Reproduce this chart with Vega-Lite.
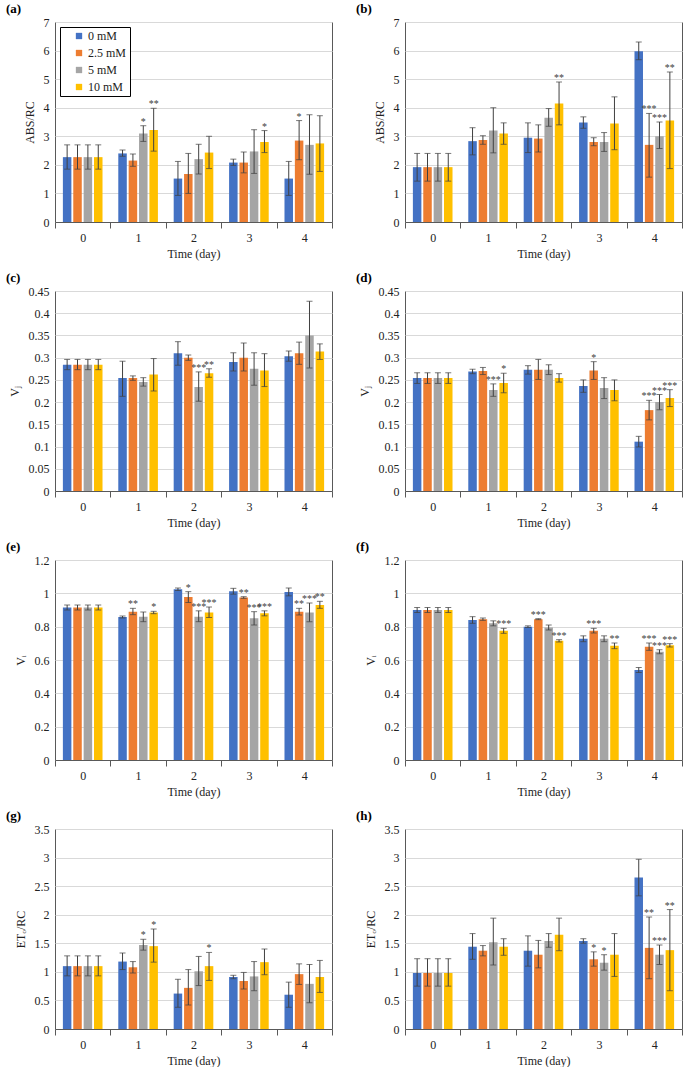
{
"$schema":"https://vega.github.io/schema/vega-lite/v6.json",
"padding":{"left":5,"top":2,"right":0,"bottom":0},
"config":{
 "view":{"stroke":"#595959","strokeWidth":1},
 "font":"Liberation Serif",
 "title":{"font":"Liberation Serif","fontSize":13,"fontWeight":"bold","anchor":"start","frame":"group","offset":0,"dy":4,"dx":-49,"color":"#000"},
 "axis":{"labelFont":"Liberation Serif","titleFont":"Liberation Serif","labelFontSize":12,"titleFontSize":12,"titleFontWeight":"normal","labelColor":"#222","titleColor":"#222"},
 "axisY":{"grid":true,"gridColor":"#d9d9d9","ticks":false,"domain":false,"labelPadding":6,"titlePadding":7,"labelOverlap":false},
 "axisX":{"tickBand":"extent","tickSize":6,"tickColor":"#595959","domainColor":"#595959","labelAngle":0,"labelPadding":4,"titlePadding":5,"grid":false},
 "tick":{"color":"#404040","size":6,"thickness":1},
 "rule":{"color":"#404040","strokeWidth":1},
 "text":{"color":"#404040","font":"Liberation Serif","fontSize":10,"baseline":"alphabetic","dy":-1}
},
"data":{"values":[
{"p":"a","d":"0","c":"0 mM","v":2.27,"lo":1.85,"hi":2.7},
{"p":"a","d":"0","c":"2.5 mM","v":2.27,"lo":1.85,"hi":2.7},
{"p":"a","d":"0","c":"5 mM","v":2.27,"lo":1.85,"hi":2.7},
{"p":"a","d":"0","c":"10 mM","v":2.27,"lo":1.85,"hi":2.7},
{"p":"a","d":"1","c":"0 mM","v":2.4,"lo":2.3,"hi":2.52},
{"p":"a","d":"1","c":"2.5 mM","v":2.15,"lo":1.95,"hi":2.38},
{"p":"a","d":"1","c":"5 mM","v":3.1,"lo":2.82,"hi":3.37,"s":"*"},
{"p":"a","d":"1","c":"10 mM","v":3.22,"lo":2.48,"hi":3.98,"s":"**"},
{"p":"a","d":"2","c":"0 mM","v":1.52,"lo":0.93,"hi":2.12},
{"p":"a","d":"2","c":"2.5 mM","v":1.68,"lo":1.0,"hi":2.4},
{"p":"a","d":"2","c":"5 mM","v":2.2,"lo":1.68,"hi":2.72},
{"p":"a","d":"2","c":"10 mM","v":2.43,"lo":1.87,"hi":3.0},
{"p":"a","d":"3","c":"0 mM","v":2.08,"lo":1.98,"hi":2.2},
{"p":"a","d":"3","c":"2.5 mM","v":2.08,"lo":1.72,"hi":2.45},
{"p":"a","d":"3","c":"5 mM","v":2.47,"lo":1.7,"hi":3.23},
{"p":"a","d":"3","c":"10 mM","v":2.8,"lo":2.43,"hi":3.2,"s":"*"},
{"p":"a","d":"4","c":"0 mM","v":1.52,"lo":0.93,"hi":2.12},
{"p":"a","d":"4","c":"2.5 mM","v":2.85,"lo":2.18,"hi":3.55,"s":"*"},
{"p":"a","d":"4","c":"5 mM","v":2.7,"lo":1.67,"hi":3.75},
{"p":"a","d":"4","c":"10 mM","v":2.75,"lo":1.77,"hi":3.72},
{"p":"b","d":"0","c":"0 mM","v":1.92,"lo":1.43,"hi":2.4},
{"p":"b","d":"0","c":"2.5 mM","v":1.92,"lo":1.43,"hi":2.4},
{"p":"b","d":"0","c":"5 mM","v":1.92,"lo":1.43,"hi":2.4},
{"p":"b","d":"0","c":"10 mM","v":1.92,"lo":1.43,"hi":2.4},
{"p":"b","d":"1","c":"0 mM","v":2.83,"lo":2.35,"hi":3.3},
{"p":"b","d":"1","c":"2.5 mM","v":2.87,"lo":2.72,"hi":3.02},
{"p":"b","d":"1","c":"5 mM","v":3.2,"lo":2.42,"hi":4.0},
{"p":"b","d":"1","c":"10 mM","v":3.1,"lo":2.72,"hi":3.47},
{"p":"b","d":"2","c":"0 mM","v":2.95,"lo":2.43,"hi":3.47},
{"p":"b","d":"2","c":"2.5 mM","v":2.92,"lo":2.45,"hi":3.4},
{"p":"b","d":"2","c":"5 mM","v":3.65,"lo":3.35,"hi":3.97},
{"p":"b","d":"2","c":"10 mM","v":4.15,"lo":3.4,"hi":4.9,"s":"**"},
{"p":"b","d":"3","c":"0 mM","v":3.48,"lo":3.28,"hi":3.68},
{"p":"b","d":"3","c":"2.5 mM","v":2.8,"lo":2.67,"hi":2.95},
{"p":"b","d":"3","c":"5 mM","v":2.8,"lo":2.47,"hi":3.13},
{"p":"b","d":"3","c":"10 mM","v":3.45,"lo":2.53,"hi":4.38},
{"p":"b","d":"4","c":"0 mM","v":5.98,"lo":5.68,"hi":6.3},
{"p":"b","d":"4","c":"2.5 mM","v":2.7,"lo":1.57,"hi":3.8,"s":"***"},
{"p":"b","d":"4","c":"5 mM","v":3.0,"lo":2.57,"hi":3.5,"s":"***"},
{"p":"b","d":"4","c":"10 mM","v":3.55,"lo":1.87,"hi":5.25,"s":"**"},
{"p":"c","d":"0","c":"0 mM","v":0.284,"lo":0.273,"hi":0.296},
{"p":"c","d":"0","c":"2.5 mM","v":0.284,"lo":0.273,"hi":0.296},
{"p":"c","d":"0","c":"5 mM","v":0.284,"lo":0.273,"hi":0.296},
{"p":"c","d":"0","c":"10 mM","v":0.284,"lo":0.273,"hi":0.296},
{"p":"c","d":"1","c":"0 mM","v":0.254,"lo":0.213,"hi":0.292},
{"p":"c","d":"1","c":"2.5 mM","v":0.254,"lo":0.249,"hi":0.259},
{"p":"c","d":"1","c":"5 mM","v":0.245,"lo":0.236,"hi":0.255},
{"p":"c","d":"1","c":"10 mM","v":0.262,"lo":0.225,"hi":0.298},
{"p":"c","d":"2","c":"0 mM","v":0.31,"lo":0.283,"hi":0.336},
{"p":"c","d":"2","c":"2.5 mM","v":0.3,"lo":0.294,"hi":0.306},
{"p":"c","d":"2","c":"5 mM","v":0.234,"lo":0.202,"hi":0.268,"s":"***"},
{"p":"c","d":"2","c":"10 mM","v":0.265,"lo":0.256,"hi":0.275,"s":"**"},
{"p":"c","d":"3","c":"0 mM","v":0.29,"lo":0.27,"hi":0.311},
{"p":"c","d":"3","c":"2.5 mM","v":0.3,"lo":0.27,"hi":0.333},
{"p":"c","d":"3","c":"5 mM","v":0.275,"lo":0.238,"hi":0.311},
{"p":"c","d":"3","c":"10 mM","v":0.271,"lo":0.235,"hi":0.309},
{"p":"c","d":"4","c":"0 mM","v":0.303,"lo":0.292,"hi":0.315},
{"p":"c","d":"4","c":"2.5 mM","v":0.31,"lo":0.285,"hi":0.335},
{"p":"c","d":"4","c":"5 mM","v":0.35,"lo":0.277,"hi":0.427},
{"p":"c","d":"4","c":"10 mM","v":0.314,"lo":0.296,"hi":0.331},
{"p":"d","d":"0","c":"0 mM","v":0.254,"lo":0.242,"hi":0.266},
{"p":"d","d":"0","c":"2.5 mM","v":0.254,"lo":0.242,"hi":0.266},
{"p":"d","d":"0","c":"5 mM","v":0.254,"lo":0.242,"hi":0.266},
{"p":"d","d":"0","c":"10 mM","v":0.254,"lo":0.242,"hi":0.266},
{"p":"d","d":"1","c":"0 mM","v":0.269,"lo":0.264,"hi":0.274},
{"p":"d","d":"1","c":"2.5 mM","v":0.27,"lo":0.262,"hi":0.278},
{"p":"d","d":"1","c":"5 mM","v":0.227,"lo":0.213,"hi":0.241,"s":"***"},
{"p":"d","d":"1","c":"10 mM","v":0.243,"lo":0.221,"hi":0.265,"s":"*"},
{"p":"d","d":"2","c":"0 mM","v":0.273,"lo":0.263,"hi":0.282},
{"p":"d","d":"2","c":"2.5 mM","v":0.273,"lo":0.251,"hi":0.296},
{"p":"d","d":"2","c":"5 mM","v":0.273,"lo":0.262,"hi":0.284},
{"p":"d","d":"2","c":"10 mM","v":0.254,"lo":0.245,"hi":0.264},
{"p":"d","d":"3","c":"0 mM","v":0.236,"lo":0.222,"hi":0.25},
{"p":"d","d":"3","c":"2.5 mM","v":0.271,"lo":0.251,"hi":0.291,"s":"*"},
{"p":"d","d":"3","c":"5 mM","v":0.232,"lo":0.208,"hi":0.255},
{"p":"d","d":"3","c":"10 mM","v":0.227,"lo":0.203,"hi":0.25},
{"p":"d","d":"4","c":"0 mM","v":0.111,"lo":0.099,"hi":0.123},
{"p":"d","d":"4","c":"2.5 mM","v":0.182,"lo":0.16,"hi":0.204,"s":"***"},
{"p":"d","d":"4","c":"5 mM","v":0.2,"lo":0.183,"hi":0.217,"s":"***"},
{"p":"d","d":"4","c":"10 mM","v":0.209,"lo":0.19,"hi":0.228,"s":"***"},
{"p":"e","d":"0","c":"0 mM","v":0.915,"lo":0.9,"hi":0.93},
{"p":"e","d":"0","c":"2.5 mM","v":0.915,"lo":0.9,"hi":0.93},
{"p":"e","d":"0","c":"5 mM","v":0.915,"lo":0.9,"hi":0.93},
{"p":"e","d":"0","c":"10 mM","v":0.915,"lo":0.9,"hi":0.93},
{"p":"e","d":"1","c":"0 mM","v":0.858,"lo":0.852,"hi":0.864},
{"p":"e","d":"1","c":"2.5 mM","v":0.89,"lo":0.872,"hi":0.91,"s":"**"},
{"p":"e","d":"1","c":"5 mM","v":0.86,"lo":0.83,"hi":0.888},
{"p":"e","d":"1","c":"10 mM","v":0.885,"lo":0.878,"hi":0.892,"s":"*"},
{"p":"e","d":"2","c":"0 mM","v":1.025,"lo":1.017,"hi":1.032},
{"p":"e","d":"2","c":"2.5 mM","v":0.978,"lo":0.945,"hi":1.01,"s":"*"},
{"p":"e","d":"2","c":"5 mM","v":0.86,"lo":0.83,"hi":0.895,"s":"***"},
{"p":"e","d":"2","c":"10 mM","v":0.885,"lo":0.855,"hi":0.918,"s":"***"},
{"p":"e","d":"3","c":"0 mM","v":1.013,"lo":0.995,"hi":1.03},
{"p":"e","d":"3","c":"2.5 mM","v":0.975,"lo":0.97,"hi":0.98,"s":"**"},
{"p":"e","d":"3","c":"5 mM","v":0.85,"lo":0.81,"hi":0.89,"s":"***"},
{"p":"e","d":"3","c":"10 mM","v":0.88,"lo":0.865,"hi":0.895,"s":"***"},
{"p":"e","d":"4","c":"0 mM","v":1.008,"lo":0.985,"hi":1.032},
{"p":"e","d":"4","c":"2.5 mM","v":0.89,"lo":0.87,"hi":0.91,"s":"**"},
{"p":"e","d":"4","c":"5 mM","v":0.885,"lo":0.83,"hi":0.942,"s":"***"},
{"p":"e","d":"4","c":"10 mM","v":0.93,"lo":0.91,"hi":0.952,"s":"**"},
{"p":"f","d":"0","c":"0 mM","v":0.9,"lo":0.885,"hi":0.915},
{"p":"f","d":"0","c":"2.5 mM","v":0.9,"lo":0.885,"hi":0.915},
{"p":"f","d":"0","c":"5 mM","v":0.9,"lo":0.885,"hi":0.915},
{"p":"f","d":"0","c":"10 mM","v":0.9,"lo":0.885,"hi":0.915},
{"p":"f","d":"1","c":"0 mM","v":0.84,"lo":0.82,"hi":0.86},
{"p":"f","d":"1","c":"2.5 mM","v":0.845,"lo":0.838,"hi":0.852},
{"p":"f","d":"1","c":"5 mM","v":0.82,"lo":0.805,"hi":0.835},
{"p":"f","d":"1","c":"10 mM","v":0.775,"lo":0.76,"hi":0.79,"s":"***"},
{"p":"f","d":"2","c":"0 mM","v":0.8,"lo":0.795,"hi":0.805},
{"p":"f","d":"2","c":"2.5 mM","v":0.845,"lo":0.842,"hi":0.848,"s":"***"},
{"p":"f","d":"2","c":"5 mM","v":0.795,"lo":0.78,"hi":0.81},
{"p":"f","d":"2","c":"10 mM","v":0.715,"lo":0.708,"hi":0.722,"s":"***"},
{"p":"f","d":"3","c":"0 mM","v":0.728,"lo":0.71,"hi":0.745},
{"p":"f","d":"3","c":"2.5 mM","v":0.775,"lo":0.762,"hi":0.79,"s":"***"},
{"p":"f","d":"3","c":"5 mM","v":0.728,"lo":0.71,"hi":0.745},
{"p":"f","d":"3","c":"10 mM","v":0.685,"lo":0.668,"hi":0.702,"s":"**"},
{"p":"f","d":"4","c":"0 mM","v":0.54,"lo":0.525,"hi":0.555},
{"p":"f","d":"4","c":"2.5 mM","v":0.68,"lo":0.658,"hi":0.702,"s":"***"},
{"p":"f","d":"4","c":"5 mM","v":0.65,"lo":0.638,"hi":0.662,"s":"***"},
{"p":"f","d":"4","c":"10 mM","v":0.688,"lo":0.678,"hi":0.698,"s":"***"},
{"p":"g","d":"0","c":"0 mM","v":1.1,"lo":0.93,"hi":1.28},
{"p":"g","d":"0","c":"2.5 mM","v":1.1,"lo":0.93,"hi":1.28},
{"p":"g","d":"0","c":"5 mM","v":1.1,"lo":0.93,"hi":1.28},
{"p":"g","d":"0","c":"10 mM","v":1.1,"lo":0.93,"hi":1.28},
{"p":"g","d":"1","c":"0 mM","v":1.18,"lo":1.04,"hi":1.33},
{"p":"g","d":"1","c":"2.5 mM","v":1.08,"lo":0.98,"hi":1.18},
{"p":"g","d":"1","c":"5 mM","v":1.47,"lo":1.38,"hi":1.57,"s":"*"},
{"p":"g","d":"1","c":"10 mM","v":1.45,"lo":1.17,"hi":1.75,"s":"*"},
{"p":"g","d":"2","c":"0 mM","v":0.62,"lo":0.38,"hi":0.87},
{"p":"g","d":"2","c":"2.5 mM","v":0.72,"lo":0.42,"hi":1.04},
{"p":"g","d":"2","c":"5 mM","v":1.01,"lo":0.76,"hi":1.27},
{"p":"g","d":"2","c":"10 mM","v":1.1,"lo":0.85,"hi":1.34,"s":"*"},
{"p":"g","d":"3","c":"0 mM","v":0.91,"lo":0.88,"hi":0.94},
{"p":"g","d":"3","c":"2.5 mM","v":0.84,"lo":0.7,"hi":0.99},
{"p":"g","d":"3","c":"5 mM","v":0.92,"lo":0.67,"hi":1.18},
{"p":"g","d":"3","c":"10 mM","v":1.17,"lo":0.95,"hi":1.4},
{"p":"g","d":"4","c":"0 mM","v":0.6,"lo":0.38,"hi":0.82},
{"p":"g","d":"4","c":"2.5 mM","v":0.96,"lo":0.78,"hi":1.14},
{"p":"g","d":"4","c":"5 mM","v":0.79,"lo":0.46,"hi":1.13},
{"p":"g","d":"4","c":"10 mM","v":0.91,"lo":0.64,"hi":1.2},
{"p":"h","d":"0","c":"0 mM","v":0.98,"lo":0.75,"hi":1.23},
{"p":"h","d":"0","c":"2.5 mM","v":0.98,"lo":0.75,"hi":1.23},
{"p":"h","d":"0","c":"5 mM","v":0.98,"lo":0.75,"hi":1.23},
{"p":"h","d":"0","c":"10 mM","v":0.98,"lo":0.75,"hi":1.23},
{"p":"h","d":"1","c":"0 mM","v":1.44,"lo":1.22,"hi":1.67},
{"p":"h","d":"1","c":"2.5 mM","v":1.37,"lo":1.28,"hi":1.46},
{"p":"h","d":"1","c":"5 mM","v":1.52,"lo":1.12,"hi":1.94},
{"p":"h","d":"1","c":"10 mM","v":1.44,"lo":1.29,"hi":1.58},
{"p":"h","d":"2","c":"0 mM","v":1.37,"lo":1.1,"hi":1.63},
{"p":"h","d":"2","c":"2.5 mM","v":1.3,"lo":1.07,"hi":1.55},
{"p":"h","d":"2","c":"5 mM","v":1.54,"lo":1.43,"hi":1.67},
{"p":"h","d":"2","c":"10 mM","v":1.65,"lo":1.37,"hi":1.94},
{"p":"h","d":"3","c":"0 mM","v":1.54,"lo":1.5,"hi":1.58},
{"p":"h","d":"3","c":"2.5 mM","v":1.22,"lo":1.1,"hi":1.35,"s":"*"},
{"p":"h","d":"3","c":"5 mM","v":1.16,"lo":1.03,"hi":1.3,"s":"*"},
{"p":"h","d":"3","c":"10 mM","v":1.3,"lo":0.92,"hi":1.67},
{"p":"h","d":"4","c":"0 mM","v":2.65,"lo":2.33,"hi":2.97},
{"p":"h","d":"4","c":"2.5 mM","v":1.42,"lo":0.88,"hi":1.96,"s":"**"},
{"p":"h","d":"4","c":"5 mM","v":1.3,"lo":1.13,"hi":1.47,"s":"***"},
{"p":"h","d":"4","c":"10 mM","v":1.38,"lo":0.67,"hi":2.09,"s":"**"}
]},
"spacing":11,
"resolve":{"scale":{"color":"independent"},"legend":{"color":"independent"}},
"vconcat":[
{"spacing":22,"resolve":{"scale":{"color":"independent"},"legend":{"color":"independent"}},"hconcat":[
{"title":"(a)","width":277,"height":200,"transform":[{"filter":"datum.p==='a'"}],
 "encoding":{"x":{"field":"d","type":"nominal","title":"Time (day)","scale":{"paddingInner":0,"paddingOuter":0}},
  "xOffset":{"field":"c","type":"nominal","scale":{"domain":["0 mM","2.5 mM","5 mM","10 mM"],"paddingInner":0.18,"paddingOuter":0.76}}},
 "layer":[
  {"mark":"bar","encoding":{"y":{"field":"v","type":"quantitative","title":"ABS/RC","scale":{"domain":[0,7],"nice":false},"axis":{"values":[0,1,2,3,4,5,6,7],"format":"~g"}},
   "color":{"field":"c","type":"nominal","scale":{"domain":["0 mM","2.5 mM","5 mM","10 mM"],"range":["#4472C4","#ED7D31","#A5A5A5","#FFC000"]},
    "legend":{"orient":"top-left","offset":5,"title":null,"symbolType":"square","symbolSize":40,"symbolStrokeWidth":0,"labelFont":"Liberation Serif","labelFontSize":12,"labelColor":"#222","strokeColor":"#000","fillColor":"#fff","padding":3,"rowPadding":5,"symbolOffset":10,"labelOffset":3}}}},
  {"mark":"rule","encoding":{"y":{"field":"lo","type":"quantitative","title":"ABS/RC","scale":{"domain":[0,7],"nice":false},"axis":{"values":[0,1,2,3,4,5,6,7],"format":"~g"}},"y2":{"field":"hi"}}},
  {"mark":"tick","encoding":{"y":{"field":"lo","type":"quantitative","title":"ABS/RC","scale":{"domain":[0,7],"nice":false},"axis":{"values":[0,1,2,3,4,5,6,7],"format":"~g"}}}},
  {"mark":"tick","encoding":{"y":{"field":"hi","type":"quantitative","title":"ABS/RC","scale":{"domain":[0,7],"nice":false},"axis":{"values":[0,1,2,3,4,5,6,7],"format":"~g"}}}},
  {"transform":[{"filter":"datum.s"}],"mark":"text","encoding":{"y":{"field":"hi","type":"quantitative","title":"ABS/RC","scale":{"domain":[0,7],"nice":false},"axis":{"values":[0,1,2,3,4,5,6,7],"format":"~g"}},"text":{"field":"s"}}}
 ]},
{"title":"(b)","width":277,"height":200,"transform":[{"filter":"datum.p==='b'"}],
 "encoding":{"x":{"field":"d","type":"nominal","title":"Time (day)","scale":{"paddingInner":0,"paddingOuter":0}},
  "xOffset":{"field":"c","type":"nominal","scale":{"domain":["0 mM","2.5 mM","5 mM","10 mM"],"paddingInner":0.18,"paddingOuter":0.76}}},
 "layer":[
  {"mark":"bar","encoding":{"y":{"field":"v","type":"quantitative","title":"ABS/RC","scale":{"domain":[0,7],"nice":false},"axis":{"values":[0,1,2,3,4,5,6,7],"format":"~g"}},
   "color":{"field":"c","type":"nominal","scale":{"domain":["0 mM","2.5 mM","5 mM","10 mM"],"range":["#4472C4","#ED7D31","#A5A5A5","#FFC000"]},"legend":null}}},
  {"mark":"rule","encoding":{"y":{"field":"lo","type":"quantitative","title":"ABS/RC","scale":{"domain":[0,7],"nice":false},"axis":{"values":[0,1,2,3,4,5,6,7],"format":"~g"}},"y2":{"field":"hi"}}},
  {"mark":"tick","encoding":{"y":{"field":"lo","type":"quantitative","title":"ABS/RC","scale":{"domain":[0,7],"nice":false},"axis":{"values":[0,1,2,3,4,5,6,7],"format":"~g"}}}},
  {"mark":"tick","encoding":{"y":{"field":"hi","type":"quantitative","title":"ABS/RC","scale":{"domain":[0,7],"nice":false},"axis":{"values":[0,1,2,3,4,5,6,7],"format":"~g"}}}},
  {"transform":[{"filter":"datum.s"}],"mark":"text","encoding":{"y":{"field":"hi","type":"quantitative","title":"ABS/RC","scale":{"domain":[0,7],"nice":false},"axis":{"values":[0,1,2,3,4,5,6,7],"format":"~g"}},"text":{"field":"s"}}}
 ]}
]},
{"spacing":22,"resolve":{"scale":{"color":"independent"},"legend":{"color":"independent"}},"hconcat":[
{"title":"(c)","width":277,"height":200,"transform":[{"filter":"datum.p==='c'"}],
 "encoding":{"x":{"field":"d","type":"nominal","title":"Time (day)","scale":{"paddingInner":0,"paddingOuter":0}},
  "xOffset":{"field":"c","type":"nominal","scale":{"domain":["0 mM","2.5 mM","5 mM","10 mM"],"paddingInner":0.18,"paddingOuter":0.76}}},
 "layer":[
  {"mark":"bar","encoding":{"y":{"field":"v","type":"quantitative","title":"Vⱼ","scale":{"domain":[0,0.45],"nice":false},"axis":{"values":[0,0.05,0.1,0.15,0.2,0.25,0.3,0.35,0.4,0.45],"format":"~g"}},
   "color":{"field":"c","type":"nominal","scale":{"domain":["0 mM","2.5 mM","5 mM","10 mM"],"range":["#4472C4","#ED7D31","#A5A5A5","#FFC000"]},"legend":null}}},
  {"mark":"rule","encoding":{"y":{"field":"lo","type":"quantitative","title":"Vⱼ","scale":{"domain":[0,0.45],"nice":false},"axis":{"values":[0,0.05,0.1,0.15,0.2,0.25,0.3,0.35,0.4,0.45],"format":"~g"}},"y2":{"field":"hi"}}},
  {"mark":"tick","encoding":{"y":{"field":"lo","type":"quantitative","title":"Vⱼ","scale":{"domain":[0,0.45],"nice":false},"axis":{"values":[0,0.05,0.1,0.15,0.2,0.25,0.3,0.35,0.4,0.45],"format":"~g"}}}},
  {"mark":"tick","encoding":{"y":{"field":"hi","type":"quantitative","title":"Vⱼ","scale":{"domain":[0,0.45],"nice":false},"axis":{"values":[0,0.05,0.1,0.15,0.2,0.25,0.3,0.35,0.4,0.45],"format":"~g"}}}},
  {"transform":[{"filter":"datum.s"}],"mark":"text","encoding":{"y":{"field":"hi","type":"quantitative","title":"Vⱼ","scale":{"domain":[0,0.45],"nice":false},"axis":{"values":[0,0.05,0.1,0.15,0.2,0.25,0.3,0.35,0.4,0.45],"format":"~g"}},"text":{"field":"s"}}}
 ]},
{"title":"(d)","width":277,"height":200,"transform":[{"filter":"datum.p==='d'"}],
 "encoding":{"x":{"field":"d","type":"nominal","title":"Time (day)","scale":{"paddingInner":0,"paddingOuter":0}},
  "xOffset":{"field":"c","type":"nominal","scale":{"domain":["0 mM","2.5 mM","5 mM","10 mM"],"paddingInner":0.18,"paddingOuter":0.76}}},
 "layer":[
  {"mark":"bar","encoding":{"y":{"field":"v","type":"quantitative","title":"Vⱼ","scale":{"domain":[0,0.45],"nice":false},"axis":{"values":[0,0.05,0.1,0.15,0.2,0.25,0.3,0.35,0.4,0.45],"format":"~g"}},
   "color":{"field":"c","type":"nominal","scale":{"domain":["0 mM","2.5 mM","5 mM","10 mM"],"range":["#4472C4","#ED7D31","#A5A5A5","#FFC000"]},"legend":null}}},
  {"mark":"rule","encoding":{"y":{"field":"lo","type":"quantitative","title":"Vⱼ","scale":{"domain":[0,0.45],"nice":false},"axis":{"values":[0,0.05,0.1,0.15,0.2,0.25,0.3,0.35,0.4,0.45],"format":"~g"}},"y2":{"field":"hi"}}},
  {"mark":"tick","encoding":{"y":{"field":"lo","type":"quantitative","title":"Vⱼ","scale":{"domain":[0,0.45],"nice":false},"axis":{"values":[0,0.05,0.1,0.15,0.2,0.25,0.3,0.35,0.4,0.45],"format":"~g"}}}},
  {"mark":"tick","encoding":{"y":{"field":"hi","type":"quantitative","title":"Vⱼ","scale":{"domain":[0,0.45],"nice":false},"axis":{"values":[0,0.05,0.1,0.15,0.2,0.25,0.3,0.35,0.4,0.45],"format":"~g"}}}},
  {"transform":[{"filter":"datum.s"}],"mark":"text","encoding":{"y":{"field":"hi","type":"quantitative","title":"Vⱼ","scale":{"domain":[0,0.45],"nice":false},"axis":{"values":[0,0.05,0.1,0.15,0.2,0.25,0.3,0.35,0.4,0.45],"format":"~g"}},"text":{"field":"s"}}}
 ]}
]},
{"spacing":22,"resolve":{"scale":{"color":"independent"},"legend":{"color":"independent"}},"hconcat":[
{"title":"(e)","width":277,"height":200,"transform":[{"filter":"datum.p==='e'"}],
 "encoding":{"x":{"field":"d","type":"nominal","title":"Time (day)","scale":{"paddingInner":0,"paddingOuter":0}},
  "xOffset":{"field":"c","type":"nominal","scale":{"domain":["0 mM","2.5 mM","5 mM","10 mM"],"paddingInner":0.18,"paddingOuter":0.76}}},
 "layer":[
  {"mark":"bar","encoding":{"y":{"field":"v","type":"quantitative","title":"Vᵢ","scale":{"domain":[0,1.2],"nice":false},"axis":{"values":[0,0.2,0.4,0.6,0.8,1,1.2],"format":"~g"}},
   "color":{"field":"c","type":"nominal","scale":{"domain":["0 mM","2.5 mM","5 mM","10 mM"],"range":["#4472C4","#ED7D31","#A5A5A5","#FFC000"]},"legend":null}}},
  {"mark":"rule","encoding":{"y":{"field":"lo","type":"quantitative","title":"Vᵢ","scale":{"domain":[0,1.2],"nice":false},"axis":{"values":[0,0.2,0.4,0.6,0.8,1,1.2],"format":"~g"}},"y2":{"field":"hi"}}},
  {"mark":"tick","encoding":{"y":{"field":"lo","type":"quantitative","title":"Vᵢ","scale":{"domain":[0,1.2],"nice":false},"axis":{"values":[0,0.2,0.4,0.6,0.8,1,1.2],"format":"~g"}}}},
  {"mark":"tick","encoding":{"y":{"field":"hi","type":"quantitative","title":"Vᵢ","scale":{"domain":[0,1.2],"nice":false},"axis":{"values":[0,0.2,0.4,0.6,0.8,1,1.2],"format":"~g"}}}},
  {"transform":[{"filter":"datum.s"}],"mark":"text","encoding":{"y":{"field":"hi","type":"quantitative","title":"Vᵢ","scale":{"domain":[0,1.2],"nice":false},"axis":{"values":[0,0.2,0.4,0.6,0.8,1,1.2],"format":"~g"}},"text":{"field":"s"}}}
 ]},
{"title":"(f)","width":277,"height":200,"transform":[{"filter":"datum.p==='f'"}],
 "encoding":{"x":{"field":"d","type":"nominal","title":"Time (day)","scale":{"paddingInner":0,"paddingOuter":0}},
  "xOffset":{"field":"c","type":"nominal","scale":{"domain":["0 mM","2.5 mM","5 mM","10 mM"],"paddingInner":0.18,"paddingOuter":0.76}}},
 "layer":[
  {"mark":"bar","encoding":{"y":{"field":"v","type":"quantitative","title":"Vᵢ","scale":{"domain":[0,1.2],"nice":false},"axis":{"values":[0,0.2,0.4,0.6,0.8,1,1.2],"format":"~g"}},
   "color":{"field":"c","type":"nominal","scale":{"domain":["0 mM","2.5 mM","5 mM","10 mM"],"range":["#4472C4","#ED7D31","#A5A5A5","#FFC000"]},"legend":null}}},
  {"mark":"rule","encoding":{"y":{"field":"lo","type":"quantitative","title":"Vᵢ","scale":{"domain":[0,1.2],"nice":false},"axis":{"values":[0,0.2,0.4,0.6,0.8,1,1.2],"format":"~g"}},"y2":{"field":"hi"}}},
  {"mark":"tick","encoding":{"y":{"field":"lo","type":"quantitative","title":"Vᵢ","scale":{"domain":[0,1.2],"nice":false},"axis":{"values":[0,0.2,0.4,0.6,0.8,1,1.2],"format":"~g"}}}},
  {"mark":"tick","encoding":{"y":{"field":"hi","type":"quantitative","title":"Vᵢ","scale":{"domain":[0,1.2],"nice":false},"axis":{"values":[0,0.2,0.4,0.6,0.8,1,1.2],"format":"~g"}}}},
  {"transform":[{"filter":"datum.s"}],"mark":"text","encoding":{"y":{"field":"hi","type":"quantitative","title":"Vᵢ","scale":{"domain":[0,1.2],"nice":false},"axis":{"values":[0,0.2,0.4,0.6,0.8,1,1.2],"format":"~g"}},"text":{"field":"s"}}}
 ]}
]},
{"spacing":22,"resolve":{"scale":{"color":"independent"},"legend":{"color":"independent"}},"hconcat":[
{"title":"(g)","width":277,"height":200,"transform":[{"filter":"datum.p==='g'"}],
 "encoding":{"x":{"field":"d","type":"nominal","title":"Time (day)","scale":{"paddingInner":0,"paddingOuter":0}},
  "xOffset":{"field":"c","type":"nominal","scale":{"domain":["0 mM","2.5 mM","5 mM","10 mM"],"paddingInner":0.18,"paddingOuter":0.76}}},
 "layer":[
  {"mark":"bar","encoding":{"y":{"field":"v","type":"quantitative","title":"ETₒ/RC","scale":{"domain":[0,3.5],"nice":false},"axis":{"values":[0,0.5,1,1.5,2,2.5,3,3.5],"format":"~g"}},
   "color":{"field":"c","type":"nominal","scale":{"domain":["0 mM","2.5 mM","5 mM","10 mM"],"range":["#4472C4","#ED7D31","#A5A5A5","#FFC000"]},"legend":null}}},
  {"mark":"rule","encoding":{"y":{"field":"lo","type":"quantitative","title":"ETₒ/RC","scale":{"domain":[0,3.5],"nice":false},"axis":{"values":[0,0.5,1,1.5,2,2.5,3,3.5],"format":"~g"}},"y2":{"field":"hi"}}},
  {"mark":"tick","encoding":{"y":{"field":"lo","type":"quantitative","title":"ETₒ/RC","scale":{"domain":[0,3.5],"nice":false},"axis":{"values":[0,0.5,1,1.5,2,2.5,3,3.5],"format":"~g"}}}},
  {"mark":"tick","encoding":{"y":{"field":"hi","type":"quantitative","title":"ETₒ/RC","scale":{"domain":[0,3.5],"nice":false},"axis":{"values":[0,0.5,1,1.5,2,2.5,3,3.5],"format":"~g"}}}},
  {"transform":[{"filter":"datum.s"}],"mark":"text","encoding":{"y":{"field":"hi","type":"quantitative","title":"ETₒ/RC","scale":{"domain":[0,3.5],"nice":false},"axis":{"values":[0,0.5,1,1.5,2,2.5,3,3.5],"format":"~g"}},"text":{"field":"s"}}}
 ]},
{"title":"(h)","width":277,"height":200,"transform":[{"filter":"datum.p==='h'"}],
 "encoding":{"x":{"field":"d","type":"nominal","title":"Time (day)","scale":{"paddingInner":0,"paddingOuter":0}},
  "xOffset":{"field":"c","type":"nominal","scale":{"domain":["0 mM","2.5 mM","5 mM","10 mM"],"paddingInner":0.18,"paddingOuter":0.76}}},
 "layer":[
  {"mark":"bar","encoding":{"y":{"field":"v","type":"quantitative","title":"ETₒ/RC","scale":{"domain":[0,3.5],"nice":false},"axis":{"values":[0,0.5,1,1.5,2,2.5,3,3.5],"format":"~g"}},
   "color":{"field":"c","type":"nominal","scale":{"domain":["0 mM","2.5 mM","5 mM","10 mM"],"range":["#4472C4","#ED7D31","#A5A5A5","#FFC000"]},"legend":null}}},
  {"mark":"rule","encoding":{"y":{"field":"lo","type":"quantitative","title":"ETₒ/RC","scale":{"domain":[0,3.5],"nice":false},"axis":{"values":[0,0.5,1,1.5,2,2.5,3,3.5],"format":"~g"}},"y2":{"field":"hi"}}},
  {"mark":"tick","encoding":{"y":{"field":"lo","type":"quantitative","title":"ETₒ/RC","scale":{"domain":[0,3.5],"nice":false},"axis":{"values":[0,0.5,1,1.5,2,2.5,3,3.5],"format":"~g"}}}},
  {"mark":"tick","encoding":{"y":{"field":"hi","type":"quantitative","title":"ETₒ/RC","scale":{"domain":[0,3.5],"nice":false},"axis":{"values":[0,0.5,1,1.5,2,2.5,3,3.5],"format":"~g"}}}},
  {"transform":[{"filter":"datum.s"}],"mark":"text","encoding":{"y":{"field":"hi","type":"quantitative","title":"ETₒ/RC","scale":{"domain":[0,3.5],"nice":false},"axis":{"values":[0,0.5,1,1.5,2,2.5,3,3.5],"format":"~g"}},"text":{"field":"s"}}}
 ]}
]}
]
}
